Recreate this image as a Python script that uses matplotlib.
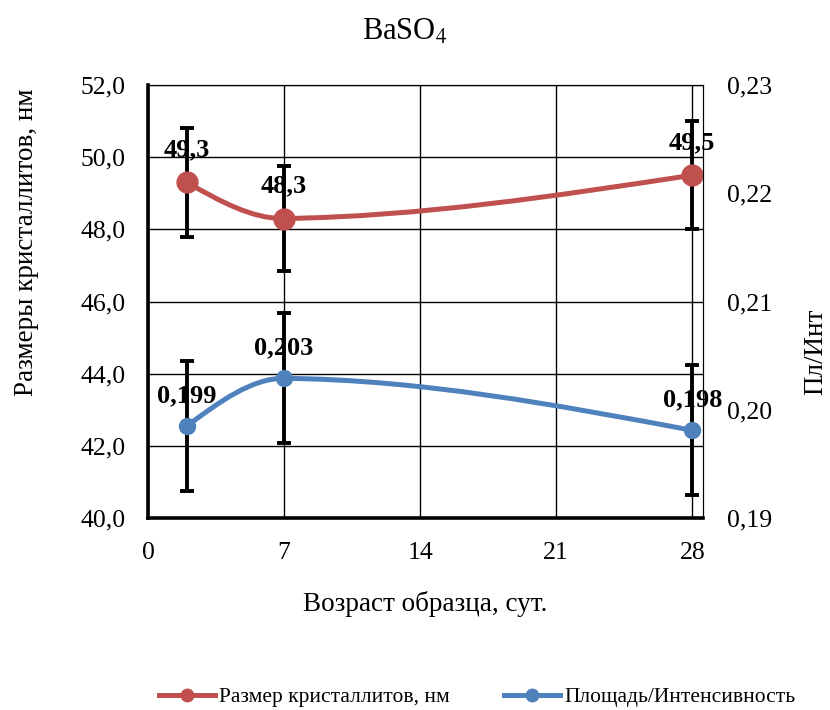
import matplotlib
matplotlib.use("Agg")
import matplotlib.pyplot as plt
from matplotlib.path import Path
from matplotlib.patches import PathPatch
from matplotlib.lines import Line2D
from matplotlib.ticker import FuncFormatter

plt.rcParams['font.family'] = ['Liberation Serif', 'DejaVu Serif']
plt.rcParams['mathtext.fontset'] = 'stix'

age = [2, 7, 28]
crystal_size = [49.3, 48.3, 49.5]
crystal_err = [1.5, 1.45, 1.5]
crystal_labels = ["49,3", "48,3", "49,5"]
ratio = [0.1985, 0.2029, 0.1981]
ratio_err = [0.006, 0.006, 0.006]
ratio_labels = ["0,199", "0,203", "0,198"]

red = "#C0504D"
blue = "#4F81BD"


def smooth_path(xs, ys):
    # cubic hermite through the points, drawn as bezier segments
    n = len(xs)
    d = [(ys[i + 1] - ys[i]) / (xs[i + 1] - xs[i]) for i in range(n - 1)]
    m = [0.0] * n
    for i in range(1, n - 1):
        m[i] = (ys[i + 1] - ys[i - 1]) / (xs[i + 1] - xs[i - 1])
    m[0] = (3 * d[0] - m[1]) / 2
    m[-1] = (3 * d[-1] - m[-2]) / 2
    verts = [(xs[0], ys[0])]
    codes = [Path.MOVETO]
    for i in range(n - 1):
        h = xs[i + 1] - xs[i]
        verts += [(xs[i] + h / 3, ys[i] + m[i] * h / 3),
                  (xs[i + 1] - h / 3, ys[i + 1] - m[i + 1] * h / 3),
                  (xs[i + 1], ys[i + 1])]
        codes += [Path.CURVE4] * 3
    return Path(verts, codes)


fig = plt.figure(figsize=(8.3, 7.1), dpi=100)
ax1 = fig.add_axes([148 / 830, 1 - 518 / 710, (703 - 148) / 830, (518 - 85) / 710])
ax2 = ax1.twinx()

comma = lambda fmt: FuncFormatter(lambda v, p: (fmt % v).replace(".", ","))

ax1.set_xlim(0, 28.55)
ax1.set_xticks([0, 7, 14, 21, 28])
ax1.set_ylim(40, 52)
ax1.set_yticks(range(40, 53, 2))
ax1.yaxis.set_major_formatter(comma("%.1f"))
ax2.set_ylim(0.19, 0.23)
ax2.set_yticks([0.19, 0.20, 0.21, 0.22, 0.23])
ax2.yaxis.set_major_formatter(comma("%.2f"))

ax1.grid(True, color="black", linewidth=1.0)
ax1.set_axisbelow(True)
ax1.tick_params(axis="both", length=0, labelsize=18.5)
ax1.tick_params(axis="x", pad=17)
ax1.tick_params(axis="y", pad=16)
ax2.tick_params(axis="y", length=0, labelsize=18.5, pad=17)

for ax in (ax1, ax2):
    for s in ax.spines.values():
        s.set_linewidth(0.8)
ax1.spines["left"].set_linewidth(2.6)
ax1.spines["bottom"].set_linewidth(2.6)
ax2.spines["left"].set_visible(False)
ax2.spines["bottom"].set_visible(False)

# crystallite size (left axis)
ax1.errorbar(age, crystal_size, yerr=crystal_err, fmt="none", ecolor="black",
             elinewidth=2.8, capsize=5, capthick=2.8, zorder=3)
ax1.add_patch(PathPatch(smooth_path(age, crystal_size), facecolor="none",
                        edgecolor=red, linewidth=3.6, zorder=4))
ax1.plot(age, crystal_size, "o", color=red, markersize=15, zorder=5)
for x, y, t in zip(age, crystal_size, crystal_labels):
    ax1.annotate(t, (x, y), xytext=(0, 21), textcoords="offset pixels",
                 ha="center", va="bottom", fontsize=19, fontweight="bold", zorder=6)

# area / intensity (right axis)
ax2.errorbar(age, ratio, yerr=ratio_err, fmt="none", ecolor="black",
             elinewidth=2.8, capsize=5, capthick=2.8, zorder=3)
ax2.add_patch(PathPatch(smooth_path(age, ratio), facecolor="none",
                        edgecolor=blue, linewidth=3.6, zorder=4))
ax2.plot(age, ratio, "o", color=blue, markersize=11.5, zorder=5)
for x, y, t in zip(age, ratio, ratio_labels):
    ax2.annotate(t, (x, y), xytext=(0, 19), textcoords="offset pixels",
                 ha="center", va="bottom", fontsize=19, fontweight="bold", zorder=6)

fig.text(405 / 830, 1 - 32 / 710, "BaSO$_4$", fontsize=22, ha="center", va="center")
ax1.set_xlabel("Возраст образца, сут.", fontsize=19.5, labelpad=20)
ax1.set_ylabel("Размеры кристаллитов, нм", fontsize=19.5)
ax1.yaxis.set_label_coords(-0.196, 0.637)
ax2.set_ylabel("Пл/Инт", fontsize=19.5)
ax2.yaxis.set_label_coords(1.18, 0.383)

handles = [Line2D([], [], color=red, linewidth=3.6, marker="o", markersize=9),
           Line2D([], [], color=blue, linewidth=3.6, marker="o", markersize=9)]
fig.legend(handles, ["Размер кристаллитов, нм", "Площадь/Интенсивность"],
           loc="center", bbox_to_anchor=(0.575, 1 - 697 / 710), ncol=2,
           frameon=False, fontsize=15.5, handlelength=2.6, columnspacing=2.5,
           handletextpad=0.2)

fig.savefig("out.png", dpi=100)
